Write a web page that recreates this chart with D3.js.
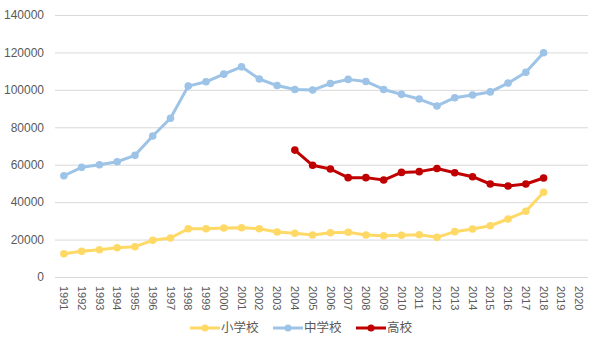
<!DOCTYPE html>
<html><head><meta charset="utf-8">
<script src="https://cdn.jsdelivr.net/npm/d3@7"></script>
<style>body{margin:0;background:#fff}svg{display:block}</style>
</head><body>
<svg id="c" width="600" height="345"></svg>
<script>
const years = d3.range(1991, 2021).map(String);
const yTicks = [0, 20000, 40000, 60000, 80000, 100000, 120000, 140000];
const seriesNames = ["小学校", "中学校", "高校"];
const seriesColors = ["#FFD966", "#9DC3E6", "#C00000"];
const elementary = [12450, 13700, 14600, 15650, 16200, 19600, 20840, 25800, 25800, 26200, 26350, 25800, 24050, 23350, 22440, 23670, 23880, 22440, 22070, 22300, 22600, 21200, 24220, 25650, 27400, 31000, 35100, 45250, null, null];
const middle = [54100, 58600, 60000, 61600, 65000, 75350, 84800, 102000, 104300, 108400, 112300, 105800, 102300, 100200, 99900, 103400, 105600, 104500, 100200, 97600, 95100, 91400, 95800, 97250, 98900, 103600, 109400, 119800, null, null];
const high = [null, null, null, null, null, null, null, null, null, null, null, null, null, 67800, 59700, 57700, 53100, 53100, 51800, 55900, 56300, 58000, 55700, 53600, 49700, 48600, 49700, 52900, null, null];
const seriesValues = [elementary, middle, high];

const svg = d3.select("#c");
const x = d3.scaleBand().domain(years).range([55, 588]);
const y = d3.scaleLinear().domain([0, 140000]).range([277, 15]);
const font = "'Liberation Sans', Arial, sans-serif";
const gray = "#595959";

// gridlines
svg.append("g").selectAll("line").data(yTicks).join("line")
  .attr("x1", 55).attr("x2", 588)
  .attr("y1", d => y(d) + 0.5).attr("y2", d => y(d) + 0.5)
  .attr("stroke", "#D9D9D9").attr("stroke-width", 1);

// y axis labels
const yAxis = svg.append("g").attr("transform", "translate(48,0)")
  .call(d3.axisLeft(y).tickValues(yTicks).tickSize(0).tickPadding(4).tickFormat(d3.format("d")));
yAxis.select(".domain").remove();
yAxis.selectAll("text").attr("fill", gray).attr("font-size", 12).attr("font-family", font);

// x axis labels
const xAxis = svg.append("g").attr("transform", "translate(0,277)")
  .call(d3.axisBottom(x).tickSize(0).tickPadding(0));
xAxis.select(".domain").remove();
xAxis.selectAll("text")
  .attr("fill", gray).attr("font-size", 11).attr("font-family", font)
  .attr("transform", "translate(0,9) rotate(90)")
  .attr("text-anchor", "start").attr("dy", "0.35em").attr("y", 0).attr("x", 0);

// lines
const line = d3.line().defined(d => d.v != null)
  .x(d => x(d.year) + x.bandwidth() / 2).y(d => y(d.v));

seriesValues.forEach((vals, i) => {
  const pts = vals.map((v, j) => ({ year: years[j], v }));
  const g = svg.append("g");
  g.append("path").datum(pts).attr("d", line)
    .attr("fill", "none").attr("stroke", seriesColors[i])
    .attr("stroke-width", 3).attr("stroke-linejoin", "round").attr("stroke-linecap", "round");
  g.selectAll("circle").data(pts.filter(d => d.v != null)).join("circle")
    .attr("cx", d => x(d.year) + x.bandwidth() / 2).attr("cy", d => y(d.v))
    .attr("r", 3.8).attr("fill", seriesColors[i]);
});

// legend
const legendX = [190, 273, 356];
seriesNames.forEach((name, i) => {
  const g = svg.append("g").attr("transform", `translate(${legendX[i]},328)`);
  g.append("line").attr("x1", 0).attr("x2", 30).attr("y1", 0).attr("y2", 0)
    .attr("stroke", seriesColors[i]).attr("stroke-width", 3);
  g.append("circle").attr("cx", 15).attr("cy", 0).attr("r", 3.5).attr("fill", seriesColors[i]);
  g.append("text").attr("x", 31).attr("y", 0).attr("dy", "0.35em")
    .attr("fill", gray).attr("font-size", 12.5)
    .attr("font-family", "'Noto Sans CJK JP', sans-serif").text(name);
});
</script>
</body></html>
